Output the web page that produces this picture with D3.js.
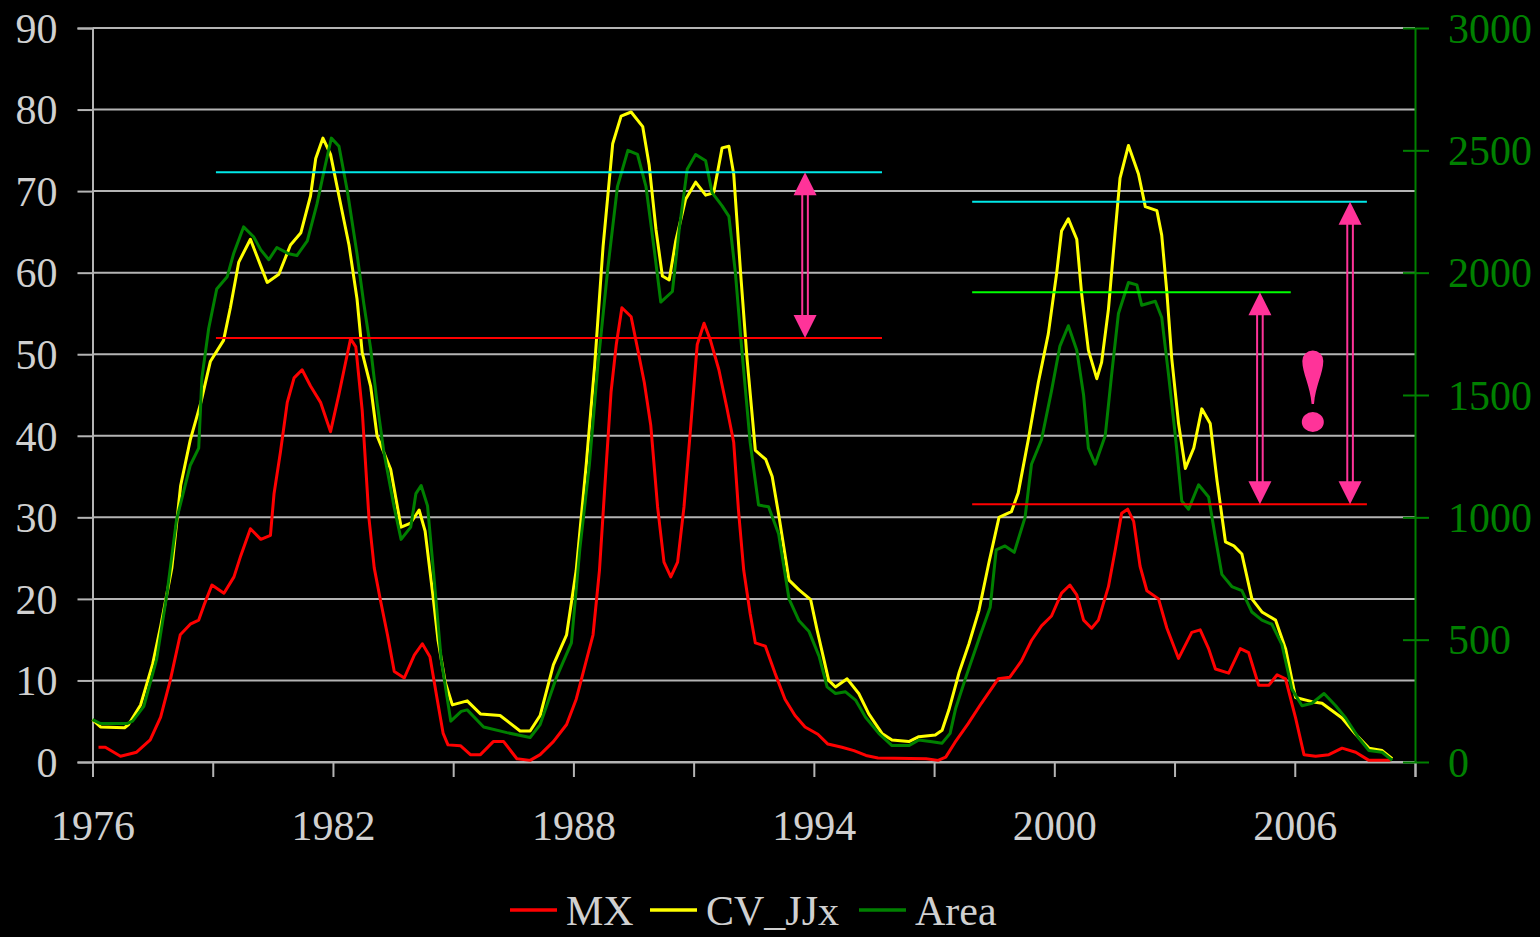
<!DOCTYPE html>
<html>
<head>
<meta charset="utf-8">
<script src="https://cdn.jsdelivr.net/npm/d3@7"></script>
<style>
  html, body { margin: 0; padding: 0; background: #000; }
  svg { display: block; }
  text { font-family: "Liberation Serif", "Times New Roman", serif; }
</style>
</head>
<body>
<svg id="chart" width="1540" height="937"></svg>
<script>
// ---------------- DATA ----------------
const leftTicks = [0, 10, 20, 30, 40, 50, 60, 70, 80, 90];
const rightTicks = [0, 500, 1000, 1500, 2000, 2500, 3000];
const yearTicks = [1976, 1979, 1982, 1985, 1988, 1991, 1994, 1997, 2000, 2003, 2006, 2009];
const yearLabels = [1976, 1982, 1988, 1994, 2000, 2006];
const seriesNames = ["MX", "CV_JJx", "Area"];

// MX (left axis)
const mxData = [[1976.15,1.8],[1976.32,1.8],[1976.7,0.7],[1977.1,1.2],[1977.44,2.7],[1977.7,5.5],[1977.94,10],[1978.19,15.6],[1978.44,16.9],[1978.65,17.4],[1978.78,19.2],[1978.98,21.7],[1979.28,20.7],[1979.53,22.7],[1979.7,25.3],[1979.94,28.6],[1980.2,27.3],[1980.44,27.8],[1980.53,32.9],[1980.69,38],[1980.86,44.1],[1981.03,47.1],[1981.23,48.1],[1981.44,46.1],[1981.69,44.1],[1981.94,40.5],[1982.15,45.1],[1982.32,49.1],[1982.44,51.9],[1982.57,50.9],[1982.73,43.1],[1982.9,29.8],[1983.03,23.8],[1983.19,19.7],[1983.36,15.6],[1983.53,11.1],[1983.78,10.3],[1984.03,13.1],[1984.23,14.5],[1984.42,12.9],[1984.59,8],[1984.75,3.5],[1984.87,2.1],[1985.18,2.0],[1985.43,0.9],[1985.68,0.9],[1986.0,2.5],[1986.26,2.5],[1986.59,0.4],[1986.92,0.2],[1987.17,0.9],[1987.5,2.5],[1987.83,4.6],[1988.07,7.7],[1988.24,10.9],[1988.49,15.6],[1988.65,23.5],[1988.82,36.5],[1988.94,45.4],[1989.07,51.2],[1989.21,55.7],[1989.44,54.6],[1989.6,50.7],[1989.77,46.5],[1989.93,41.3],[1990.1,31.3],[1990.26,24.5],[1990.43,22.7],[1990.6,24.5],[1990.76,31.3],[1990.93,41.3],[1991.09,51.2],[1991.26,53.8],[1991.42,51.7],[1991.63,48.1],[1991.83,43.4],[1992.0,39.2],[1992.12,30.8],[1992.25,23.5],[1992.41,18.2],[1992.54,14.6],[1992.79,14.2],[1993.03,10.9],[1993.28,7.7],[1993.53,5.7],[1993.78,4.3],[1994.1,3.4],[1994.35,2.2],[1994.7,1.8],[1995.0,1.4],[1995.3,0.8],[1995.6,0.5],[1996.8,0.4],[1997.1,0.2],[1997.29,0.6],[1997.52,2.4],[1997.85,4.7],[1998.18,7.2],[1998.6,10.2],[1998.89,10.4],[1999.18,12.4],[1999.43,14.9],[1999.68,16.7],[1999.93,17.9],[2000.18,20.7],[2000.39,21.7],[2000.56,20.5],[2000.73,17.4],[2000.93,16.4],[2001.1,17.4],[2001.35,21.5],[2001.52,26],[2001.68,30.5],[2001.83,31],[2001.98,29.5],[2002.14,24],[2002.31,21],[2002.6,20],[2002.81,16.4],[2003.1,12.7],[2003.43,15.9],[2003.64,16.2],[2003.85,13.9],[2004.02,11.4],[2004.35,10.9],[2004.64,13.9],[2004.85,13.4],[2005.1,9.4],[2005.35,9.4],[2005.56,10.7],[2005.77,10.2],[2006.02,5.4],[2006.23,0.9],[2006.52,0.7],[2006.85,0.9],[2007.18,1.7],[2007.52,1.2],[2007.85,0.2],[2008.39,0.2]];

// CV_JJx (left axis)
const cvData = [[1976.0,5.2],[1976.2,4.3],[1976.8,4.2],[1976.9,4.6],[1977.2,7.0],[1977.5,12],[1977.7,16.6],[1977.98,23.8],[1978.2,33.9],[1978.44,39.5],[1978.7,44],[1978.94,49.1],[1979.27,51.7],[1979.44,55.7],[1979.65,61.3],[1979.94,64.1],[1980.2,60.8],[1980.36,58.8],[1980.65,59.8],[1980.94,63.4],[1981.2,64.9],[1981.44,69.4],[1981.57,74],[1981.75,76.5],[1981.94,74.5],[1982.15,69.4],[1982.4,63.4],[1982.6,56.8],[1982.73,50.2],[1982.94,46.1],[1983.1,40],[1983.44,35.9],[1983.7,28.8],[1983.94,29.3],[1984.15,30.9],[1984.3,28.3],[1984.5,20.2],[1984.62,15],[1984.8,9.8],[1984.98,7.0],[1985.35,7.5],[1985.68,5.9],[1986.17,5.7],[1986.67,3.8],[1986.92,3.8],[1987.17,5.7],[1987.5,11.9],[1987.83,15.6],[1988.07,23.5],[1988.32,36.5],[1988.53,48.6],[1988.74,63.2],[1988.98,75.8],[1989.19,79.2],[1989.44,79.7],[1989.73,77.9],[1989.89,73.2],[1990.06,65.3],[1990.22,59.6],[1990.39,59.1],[1990.55,63.8],[1990.8,69],[1991.05,71.1],[1991.3,69.5],[1991.5,69.8],[1991.71,75.3],[1991.88,75.5],[1992.0,72.1],[1992.17,60.1],[1992.33,49.6],[1992.54,38.2],[1992.8,37.1],[1992.96,35],[1993.13,30.1],[1993.38,22.3],[1993.63,21.1],[1993.92,19.9],[1994.08,16.2],[1994.37,10],[1994.54,9.2],[1994.83,10.2],[1995.12,8.4],[1995.37,5.9],[1995.7,3.5],[1995.95,2.7],[1996.37,2.5],[1996.62,3.1],[1997.03,3.3],[1997.2,3.9],[1997.37,6.4],[1997.62,10.9],[1997.87,14.5],[1998.12,18.6],[1998.37,24.5],[1998.62,30],[1998.93,30.7],[1999.1,33],[1999.35,39.5],[1999.6,46.5],[1999.85,52.5],[2000.06,60],[2000.18,65.1],[2000.35,66.6],[2000.56,64.1],[2000.68,57.5],[2000.85,50.5],[2001.06,47],[2001.18,49],[2001.35,55.5],[2001.52,65.1],[2001.64,71.6],[2001.85,75.6],[2002.1,72.1],[2002.27,68.1],[2002.56,67.6],[2002.68,64.6],[2002.81,57.5],[2002.93,49.5],[2003.1,41.5],[2003.27,36],[2003.48,38.5],[2003.68,43.3],[2003.89,41.5],[2004.06,34.5],[2004.27,27],[2004.48,26.5],[2004.68,25.5],[2004.93,20],[2005.18,18.4],[2005.52,17.4],[2005.77,13.9],[2006.02,7.9],[2006.43,7.4],[2006.68,7.2],[2007.18,5.4],[2007.52,3.4],[2007.85,1.7],[2008.18,1.4],[2008.43,0.4]];

// Area (right axis)
const areaData = [[1976.0,173],[1976.2,157],[1976.86,157],[1977.0,167],[1977.28,227],[1977.6,420],[1977.86,690],[1978.1,993],[1978.44,1213],[1978.65,1283],[1978.73,1570],[1978.9,1773],[1979.1,1933],[1979.36,1983],[1979.52,2077],[1979.77,2187],[1980.02,2147],[1980.2,2093],[1980.4,2053],[1980.6,2103],[1980.9,2077],[1981.1,2070],[1981.36,2130],[1981.6,2280],[1981.8,2433],[1981.96,2550],[1982.15,2517],[1982.36,2333],[1982.6,2077],[1982.77,1873],[1982.94,1690],[1983.1,1470],[1983.27,1267],[1983.52,1047],[1983.7,910],[1983.94,960],[1984.07,1097],[1984.2,1130],[1984.36,1047],[1984.52,757],[1984.7,420],[1984.94,167],[1985.2,207],[1985.35,213],[1985.76,143],[1986.34,120],[1986.92,100],[1987.17,153],[1987.58,347],[1987.95,487],[1988.16,870],[1988.4,1217],[1988.61,1620],[1988.86,2020],[1989.1,2353],[1989.36,2500],[1989.6,2483],[1989.81,2353],[1990.02,2090],[1990.18,1880],[1990.47,1923],[1990.64,2177],[1990.84,2423],[1991.05,2483],[1991.3,2457],[1991.46,2327],[1991.71,2273],[1991.88,2230],[1992.04,2003],[1992.2,1690],[1992.41,1307],[1992.62,1050],[1992.87,1043],[1993.12,933],[1993.38,667],[1993.63,577],[1993.88,533],[1994.13,433],[1994.33,307],[1994.54,280],[1994.79,287],[1995.04,253],[1995.29,183],[1995.62,117],[1995.95,67],[1996.37,67],[1996.62,90],[1996.95,83],[1997.2,77],[1997.4,117],[1997.54,220],[1997.8,350],[1998.15,517],[1998.4,633],[1998.55,867],[1998.77,883],[1999.0,857],[1999.27,1000],[1999.43,1217],[1999.68,1317],[1999.93,1517],[2000.14,1700],[2000.35,1783],[2000.56,1683],[2000.73,1500],[2000.85,1283],[2001.02,1217],[2001.27,1333],[2001.43,1583],[2001.6,1833],[2001.85,1960],[2002.06,1950],[2002.18,1867],[2002.52,1883],[2002.68,1817],[2002.85,1583],[2003.02,1333],[2003.18,1067],[2003.35,1033],[2003.6,1133],[2003.85,1083],[2004.02,917],[2004.18,767],[2004.43,717],[2004.68,700],[2004.93,613],[2005.18,580],[2005.43,563],[2005.68,480],[2005.93,297],[2006.18,230],[2006.43,240],[2006.73,280],[2007.02,230],[2007.27,180],[2007.6,97],[2007.85,47],[2008.18,40],[2008.43,7]];

// Reference levels (left-axis units) and annotation arrows
const refLevels = [
  {v: 72.3, from: 1979.08, to: 1995.7, color: "#00e8e8"},
  {v: 52.0, from: 1979.08, to: 1995.7, color: "#ff0000"},
  {v: 68.7, from: 1997.95, to: 2007.8, color: "#00e8e8"},
  {v: 57.6, from: 1997.95, to: 2005.9, color: "#00ff00"},
  {v: 31.6, from: 1997.95, to: 2007.8, color: "#ff0000"}
];
const arrowYears = [1993.78, 2005.13, 2007.38];
const arrowTops = [72.3, 57.6, 68.7];
const arrowBottoms = [52.0, 31.6, 31.6];
const exclamYear = 2006.45;

// ---------------- CHART ----------------
const svg = d3.select("#chart");
svg.append("rect").attr("width", 1540).attr("height", 937).attr("fill", "#000");

const x = d3.scaleLinear().domain([1976, 2009]).range([92.5, 1415]);
const y = d3.scaleLinear().domain([0, 90]).range([762, 28]);
const yR = d3.scaleLinear().domain([0, 3000]).range([762, 28]);

const gridColor = "#b4b4b4";
const textColor = "#d0d0d0";
const axisGreen = "#008000";

// Gridlines
svg.append("g").selectAll("line").data(leftTicks).join("line")
  .attr("x1", x(1976)).attr("x2", x(2009))
  .attr("y1", d => y(d)).attr("y2", d => y(d))
  .attr("stroke", gridColor).attr("stroke-width", 2);

// Left axis
const gL = svg.append("g").attr("transform", `translate(${x(1976)},0)`)
  .call(d3.axisLeft(y).tickValues(leftTicks).tickSize(15).tickPadding(20));
gL.select(".domain").attr("stroke", gridColor).attr("stroke-width", 2);
gL.selectAll(".tick line").attr("stroke", gridColor).attr("stroke-width", 2);
gL.selectAll(".tick text").attr("fill", textColor).attr("font-size", 42)
  .attr("font-family", "Liberation Serif, serif").attr("dy", "0.34em");

// Bottom axis
const gB = svg.append("g").attr("transform", `translate(0,${y(0)})`)
  .call(d3.axisBottom(x).tickValues(yearTicks).tickSize(15)
    .tickFormat(d => yearLabels.includes(d) ? String(d) : ""));
gB.select(".domain").attr("stroke", gridColor).attr("stroke-width", 2);
gB.selectAll(".tick line").attr("stroke", gridColor).attr("stroke-width", 2);
gB.selectAll(".tick text").attr("fill", textColor).attr("font-size", 42)
  .attr("font-family", "Liberation Serif, serif").attr("y", 78).attr("dy", 0);

// Right axis
const gR = svg.append("g").attr("transform", `translate(${x(2009)},0)`)
  .call(d3.axisRight(yR).tickValues(rightTicks).tickFormat(d3.format("d"))
    .tickSizeInner(14).tickSizeOuter(0).tickPadding(19));
gR.select(".domain").attr("stroke", axisGreen).attr("stroke-width", 2);
gR.selectAll(".tick line").attr("stroke", axisGreen).attr("stroke-width", 2).attr("x1", -12);
gR.selectAll(".tick text").attr("fill", axisGreen).attr("font-size", 42)
  .attr("font-family", "Liberation Serif, serif").attr("dy", "0.34em");

// Series lines
const lineL = d3.line().x(d => x(d[0])).y(d => y(d[1]));
const lineR = d3.line().x(d => x(d[0])).y(d => yR(d[1]));
const seriesColors = ["#ff0000", "#ffff00", "#008000"];

svg.append("path").datum(mxData).attr("d", lineL)
  .attr("fill", "none").attr("stroke", seriesColors[0]).attr("stroke-width", 3).attr("stroke-linejoin", "round");
svg.append("path").datum(cvData).attr("d", lineL)
  .attr("fill", "none").attr("stroke", seriesColors[1]).attr("stroke-width", 3).attr("stroke-linejoin", "round");
svg.append("path").datum(areaData).attr("d", lineR)
  .attr("fill", "none").attr("stroke", seriesColors[2]).attr("stroke-width", 3).attr("stroke-linejoin", "round");

// Reference levels
svg.append("g").selectAll("line").data(refLevels).join("line")
  .attr("x1", d => x(d.from)).attr("x2", d => x(d.to))
  .attr("y1", d => y(d.v)).attr("y2", d => y(d.v))
  .attr("stroke", d => d.color).attr("stroke-width", 2);

// Arrows
const pink = "#ff3399";
const gA = svg.append("g");
arrowYears.forEach((yr, i) => {
  const cx = x(yr), yt = y(arrowTops[i]), yb = y(arrowBottoms[i]);
  const hw = 11.5, hh = 23;
  [-2.8, 2.8].forEach(off => {
    gA.append("line").attr("x1", cx + off).attr("x2", cx + off)
      .attr("y1", yt + hh - 1).attr("y2", yb - hh + 1)
      .attr("stroke", pink).attr("stroke-width", 2);
  });
  gA.append("path").attr("d", `M${cx},${yt} L${cx + hw},${yt + hh} L${cx - hw},${yt + hh} Z`).attr("fill", pink);
  gA.append("path").attr("d", `M${cx},${yb} L${cx + hw},${yb - hh} L${cx - hw},${yb - hh} Z`).attr("fill", pink);
});

// Exclamation mark
const ex = x(exclamYear);
gA.append("path")
  .attr("d", `M${ex - 10.5},361 A10.5 10.5 0 0 1 ${ex + 10.5},361 C${ex + 10.5},373 ${ex + 2.5},386 ${ex + 1.2},404 L${ex - 1.2},404 C${ex - 2.5},386 ${ex - 10.5},373 ${ex - 10.5},361 Z`)
  .attr("fill", pink);
gA.append("ellipse").attr("cx", ex).attr("cy", 422).attr("rx", 11).attr("ry", 10).attr("fill", pink);

// Legend
const legendX = [510, 650, 859];
const lg = svg.append("g");
seriesNames.forEach((name, i) => {
  lg.append("line").attr("x1", legendX[i]).attr("x2", legendX[i] + 47)
    .attr("y1", 910).attr("y2", 910).attr("stroke", seriesColors[i]).attr("stroke-width", 3.5);
  lg.append("text").attr("x", legendX[i] + 56).attr("y", 925)
    .attr("fill", textColor).attr("font-size", 42).text(name);
});
</script>
</body>
</html>
